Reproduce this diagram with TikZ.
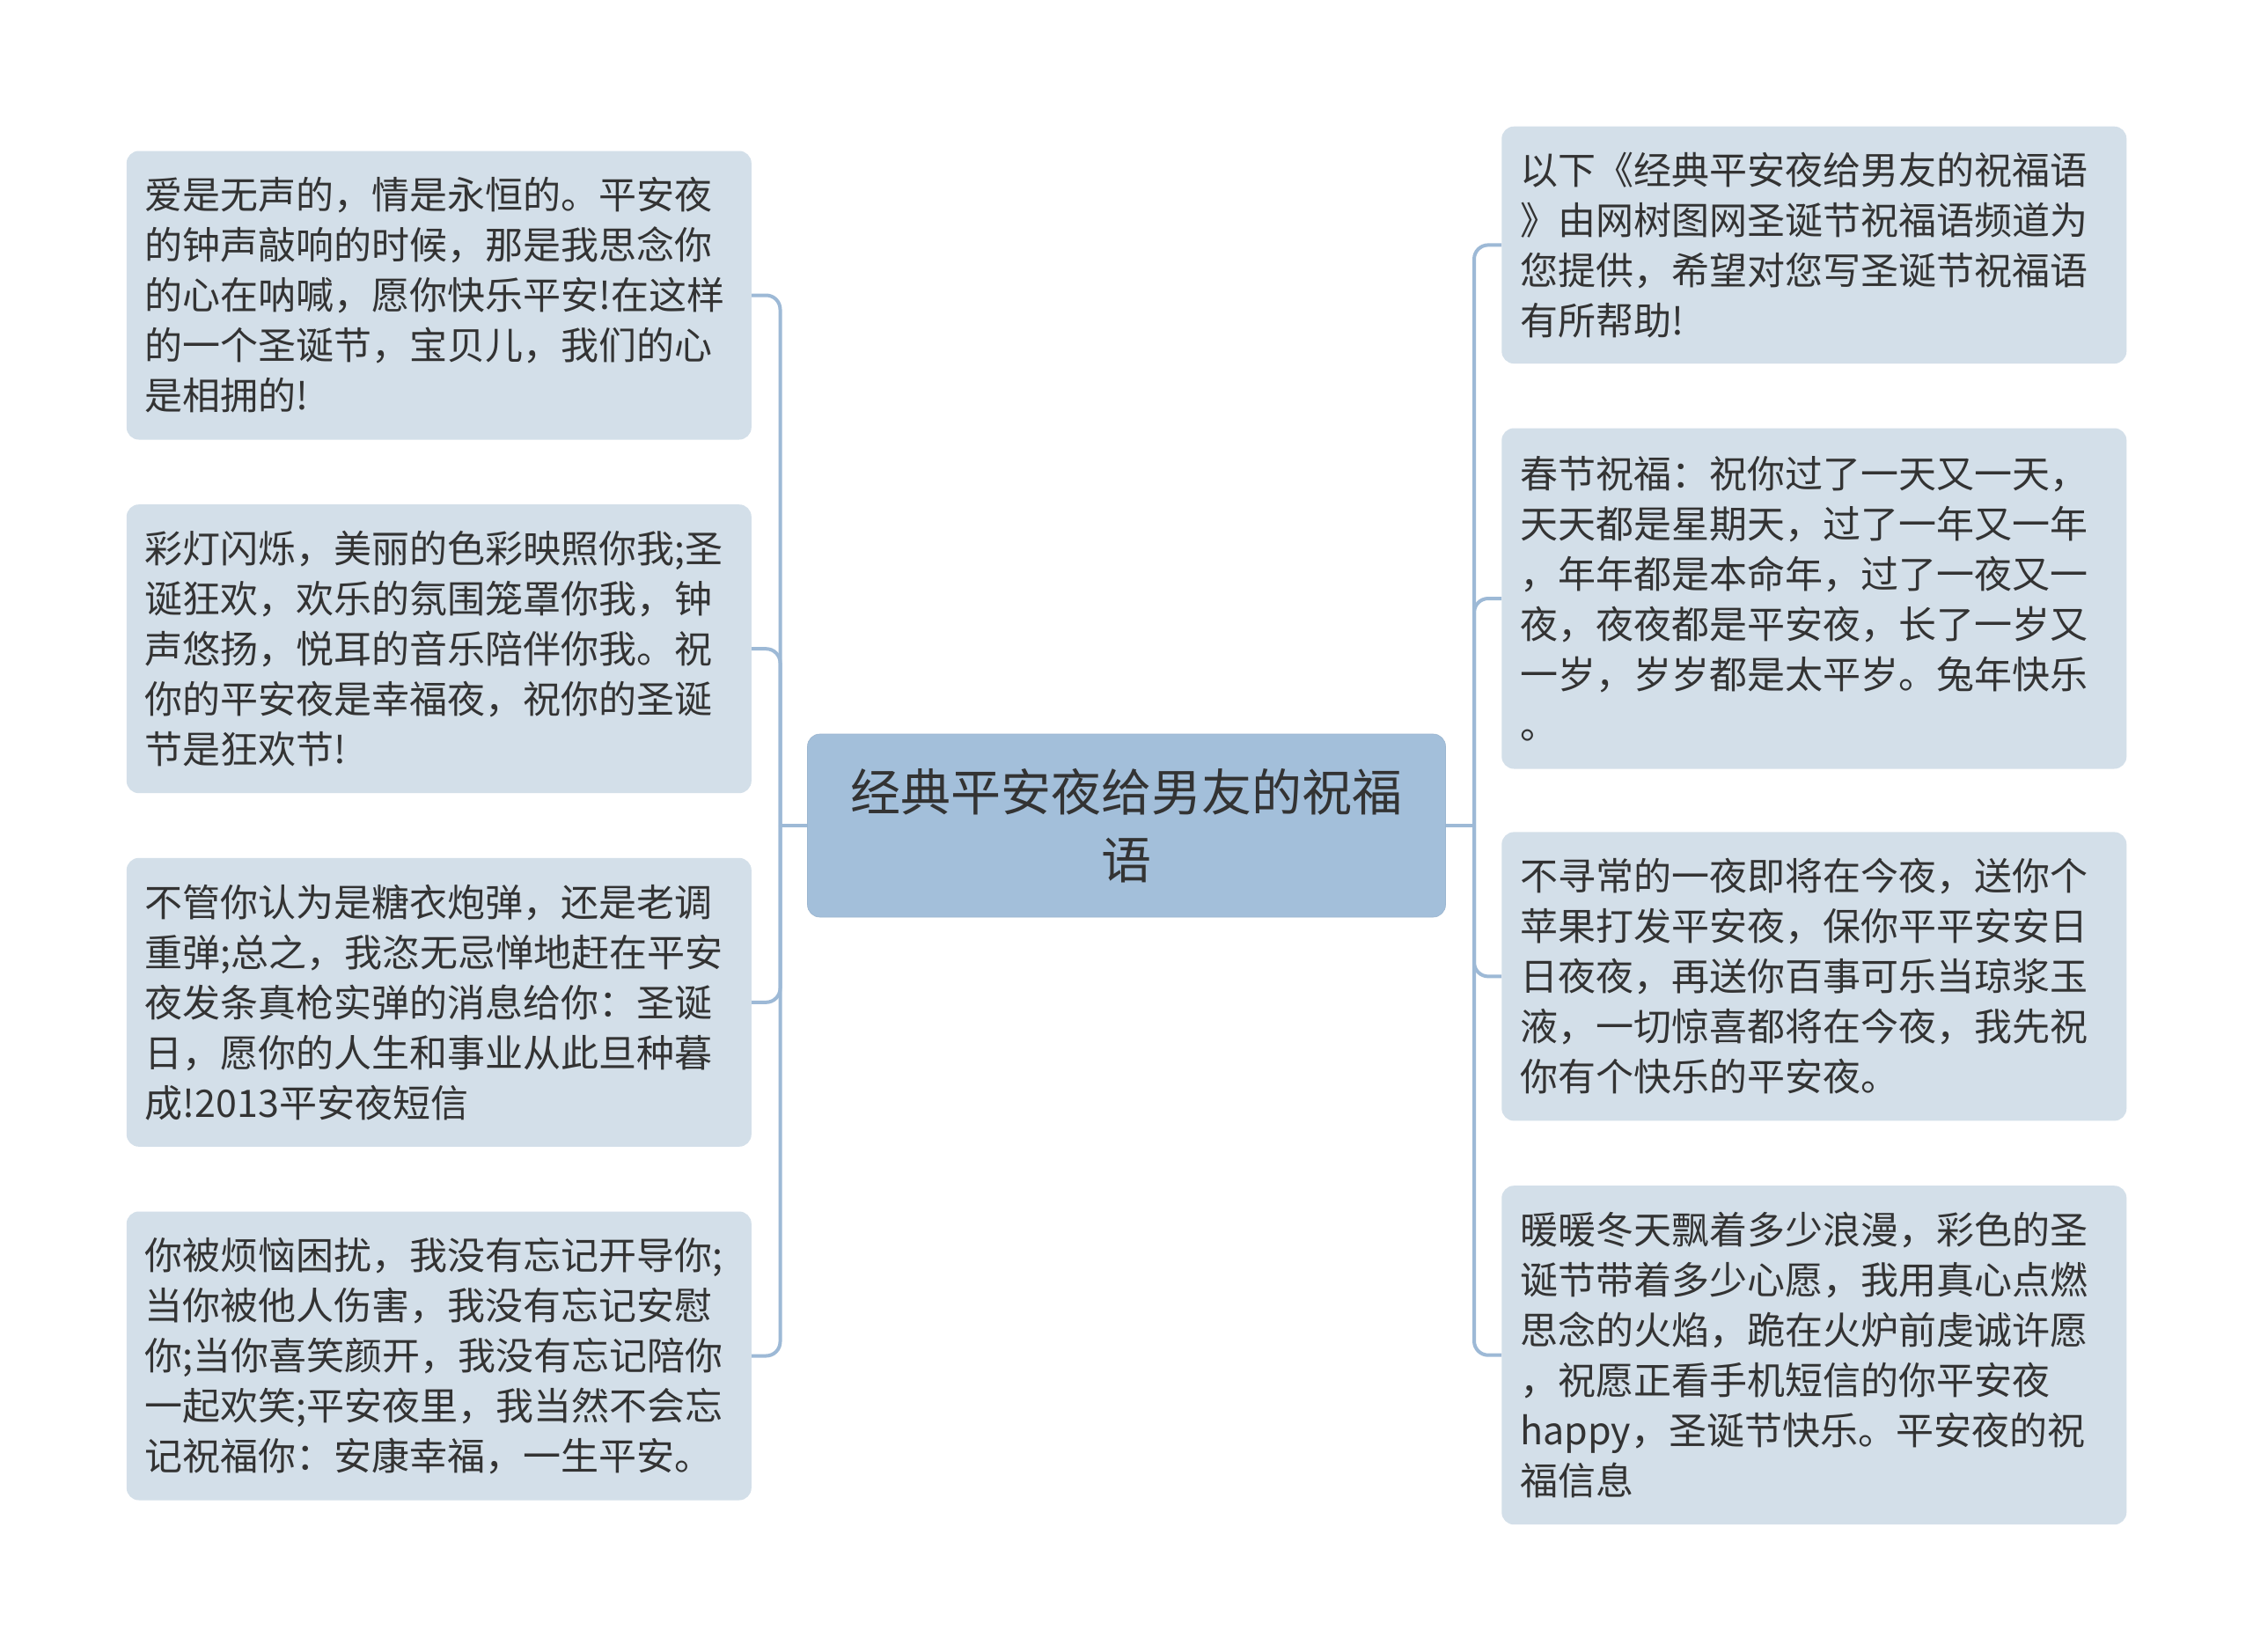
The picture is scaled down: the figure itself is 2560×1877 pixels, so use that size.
\documentclass[tikz,border=0pt]{standalone}
\usepackage{fontspec}
\newfontfamily\cjk{Noto Sans CJK SC}
\definecolor{rootfill}{HTML}{A3BFDA}
\definecolor{leaffill}{HTML}{D3DFE9}
\definecolor{linkcol}{HTML}{9DB9D6}
\definecolor{txtcol}{HTML}{333333}
\begin{document}
\begin{tikzpicture}[x=1pt,y=-1pt,
  rootbox/.style={rectangle,rounded corners=14pt,fill=rootfill,draw=rootfill!95!black,line width=0.6pt,
    minimum width=725pt,minimum height=208pt,align=center,text=txtcol,
    font=\cjk\fontsize{57pt}{77pt}\selectfont},
  leafbox/.style={rectangle,rounded corners=14pt,fill=leaffill,inner xsep=21pt,inner ysep=0pt,
    text width=668pt,align=left,text=txtcol,
    font=\cjk\fontsize{43pt}{57pt}\selectfont},
  conn/.style={draw=linkcol,line width=4pt,rounded corners=16pt}]
\useasboundingbox (0,0) rectangle (2560,1877);
\fill[white] (0,0) rectangle (2560,1877);

\node[rootbox] (C) at (1280,938) {经典平安夜给男友的祝福\\语};

\node[leafbox,minimum height=328pt] (L1) at (498.8,335.5) {爱是无声的，情是永恒的。平安夜\\的钟声敲响的时候，那是我思念你\\的心在呐喊，愿你快乐平安!在这样\\的一个圣诞节，宝贝儿，我们的心\\是相拥的!};
\node[leafbox,minimum height=328pt] (L2) at (498.8,737.2) {彩灯闪烁，美丽的色彩映照你我;圣\\诞狂欢，欢乐的氛围笼罩你我，钟\\声悠扬，悦耳的音乐陪伴你我。祝\\你的平安夜是幸福夜，祝你的圣诞\\节是狂欢节!};
\node[leafbox,minimum height=328pt] (L3) at (498.8,1138.8) {不管你认为是糖衣炮弹，还是老调\\重弹;总之，我恣无忌惮地赶在平安\\夜发条真枪实弹的消息给你：圣诞\\日，愿你的人生和事业从此旦种暮\\成!2013平安夜短信};
\node[leafbox,minimum height=328pt] (L4) at (498.8,1540.5) {你被烦恼困扰，我没有忘记开导你;\\当你被他人伤害，我没有忘记安慰\\你;当你喜笑颜开，我没有忘记陪你\\一起欢笑;平安夜里，我当然不会忘\\记祝福你：安康幸福，一生平安。};

\node[leafbox,minimum height=269.4pt] (R1) at (2061.3,278.4) {以下《经典平安夜给男友的祝福语\\》由网树图网圣诞节祝福语频道为\\您提供，希望对您写圣诞节祝福语\\有所帮助!};
\node[leafbox,minimum height=387pt] (R2) at (2061.3,680) {春节祝福：祝你过了一天又一天，\\天天都是星期天，过了一年又一年\\，年年都是本命年，过了一夜又一\\夜，夜夜都是平安夜，长了一岁又\\一岁，岁岁都是太平岁。兔年快乐\\。};
\node[leafbox,minimum height=328pt] (R3) at (2061.3,1109.4) {不寻常的一夜即将在今夜，送你个\\苹果打发平安夜，保你平平安安日\\日夜夜，再送你百事可乐当琼浆玉\\液，一切惊喜都将在今夜，我先祝\\你有个快乐的平安夜。};
\node[leafbox,minimum height=385pt] (R4) at (2061.3,1539.7) {暖暖冬天飘着多少浪漫，彩色的圣\\诞节带着多少心愿，我用真心点燃\\思念的火焰，跪在火炉前虔诚许愿\\，祝愿正看手机短信的你平安夜\\happy，圣诞节快乐。平安夜的祝\\福信息};

\coordinate (lj) at (886.5,938);
\coordinate (rj) at (1675,938);

\draw[conn] (C.west) -- (lj);
\draw[conn] (C.east) -- (rj);
\foreach \n in {L1,L2,L3,L4} \draw[conn] (lj) |- (\n.east);
\foreach \n in {R1,R2,R3,R4} \draw[conn] (rj) |- (\n.west);
\end{tikzpicture}
\end{document}
